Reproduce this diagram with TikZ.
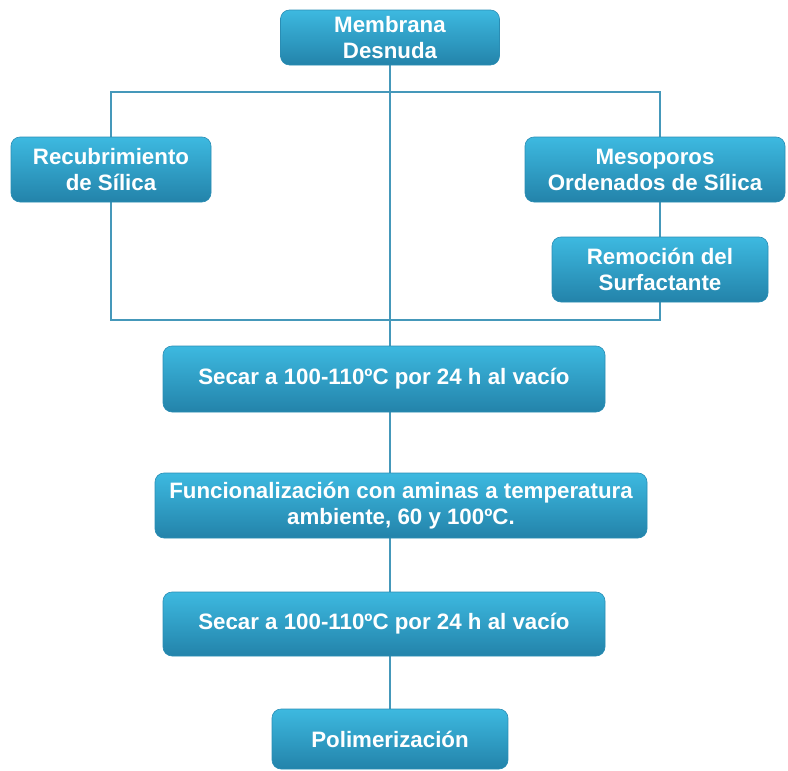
\documentclass[tikz,border=0pt]{standalone}
\usepackage{fontspec}
\setmainfont{Liberation Sans}
\usetikzlibrary{backgrounds}
\definecolor{boxtop}{HTML}{3DB9E0}
\definecolor{boxbot}{HTML}{2383AA}
\definecolor{boxedge}{HTML}{2A8DB4}
\definecolor{linec}{HTML}{4598BA}
\tikzset{
  flowbox/.style={rounded corners=9pt, top color=boxtop, bottom color=boxbot,
    draw=boxedge, line width=0.6pt, text=white, align=center,
    font=\fontsize{22.3}{26}\selectfont\bfseries, inner sep=0pt},
  link/.style={draw=linec, line width=1.8pt}
}
\begin{document}
\begin{tikzpicture}[x=1pt,y=-1pt]
\useasboundingbox (0,0) rectangle (788,771);
\node[flowbox, minimum width=219, minimum height=55] (mem) at (390,37.5) {Membrana\\Desnuda};
\node[flowbox, minimum width=200, minimum height=65] (rec) at (111,169.5) {Recubrimiento\\de Sílica};
\node[flowbox, minimum width=260, minimum height=65] (meso) at (655,169.5) {Mesoporos\\Ordenados de Sílica};
\node[flowbox, minimum width=216, minimum height=65] (rem) at (660,269.5) {Remoción del\\Surfactante};
\node[flowbox, minimum width=442, minimum height=66] (s1) at (384,379) {Secar a 100-110ºC por 24 h al vacío};
\node[flowbox, minimum width=492, minimum height=65] (fun) at (401,505.5) {Funcionalización con aminas a temperatura\\ambiente, 60 y 100ºC.};
\node[flowbox, minimum width=442, minimum height=64] (s2) at (384,624) {Secar a 100-110ºC por 24 h al vacío};
\node[flowbox, minimum width=236, minimum height=60] (pol) at (390,739) {Polimerización};
\coordinate (tl) at (111,92);
\coordinate (tr) at (660,92);
\coordinate (br) at (660,320);
\coordinate (bl) at (111,320);
\begin{scope}[on background layer]
\draw[link] (tl) -- (tr) -- (br) -- (bl) -- cycle;
\draw[link] (mem.south) -- (mem.south |- s1.north);
\draw[link] (mem.south |- s1.south) -- (mem.south |- fun.north);
\draw[link] (mem.south |- fun.south) -- (mem.south |- s2.north);
\draw[link] (mem.south |- s2.south) -- (pol.north);
\end{scope}
\end{tikzpicture}
\end{document}
